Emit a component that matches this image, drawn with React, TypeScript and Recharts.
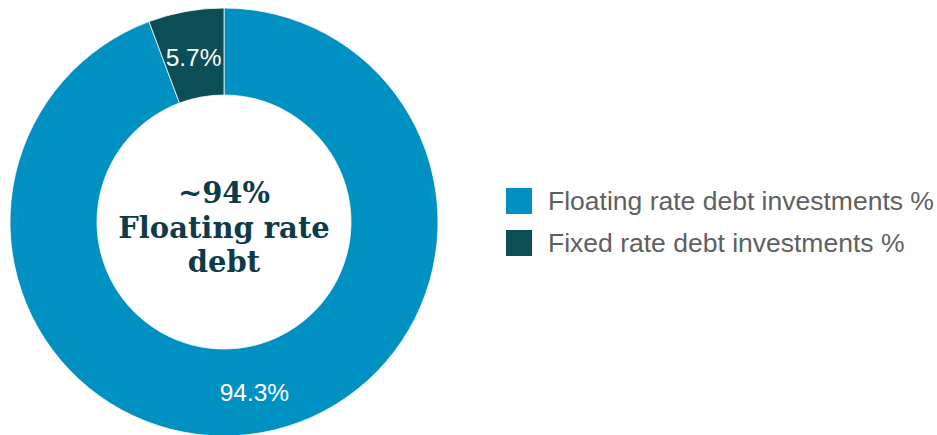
import { PieChart, Pie, Cell, Legend } from 'recharts';

const categories = ['Floating rate debt investments %', 'Fixed rate debt investments %'];
const shares = [94.3, 5.7];
const colors = ['#0091C2', '#0B4E56'];
const centerLines = ['~94%', 'Floating rate', 'debt'];

const data = categories.map((name, i) => ({ name, value: shares[i] }));

const RAD = Math.PI / 180;

// slice value labels; the first slice also draws the centre caption
const renderSliceLabel = (props: any) => {
  const { cx, cy, midAngle, innerRadius, outerRadius, value, index } = props;
  const r = (innerRadius + outerRadius) / 2;
  const x = cx + r * Math.cos(-midAngle * RAD);
  const y = cy + r * Math.sin(-midAngle * RAD);
  return (
    <g>
      <text
        x={x}
        y={y + 3}
        fill="#ffffff"
        textAnchor="middle"
        dominantBaseline="central"
        fontFamily="'Liberation Sans', Arial, sans-serif"
        fontSize={24.5}
      >
        {value.toFixed(1)}%
      </text>
      {index === 0 && (
        <text
          x={cx}
          textAnchor="middle"
          fill="#0E3B4A"
          fontFamily="'DejaVu Serif', Georgia, serif"
          fontWeight="bold"
          fontSize={29}
        >
          {centerLines.map((line, i) => (
            <tspan key={line} x={cx} y={cy - 19 + i * 34.5}>
              {line}
            </tspan>
          ))}
        </text>
      )}
    </g>
  );
};

const renderLegend = () => (
  <div style={{ fontFamily: "'Liberation Sans', Arial, sans-serif", fontSize: 26.5, color: '#5f5f5f' }}>
    {categories.map((name, i) => (
      <div key={name} style={{ display: 'flex', alignItems: 'center', height: 42, whiteSpace: 'nowrap' }}>
        <span style={{ display: 'inline-block', width: 26, height: 26, background: colors[i], marginRight: 16, flexShrink: 0 }} />
        <span>{name}</span>
      </div>
    ))}
  </div>
);

export default function App() {
  return (
    <div style={{ position: 'absolute', left: 0, top: 0, background: '#fff' }}>
      <PieChart width={937} height={435} margin={{ top: 0, right: 0, bottom: 0, left: 0 }}>
        <Pie
          data={data}
          dataKey="value"
          nameKey="name"
          cx={224}
          cy={222}
          innerRadius={127}
          outerRadius={214}
          startAngle={90}
          endAngle={-270}
          stroke="#ffffff"
          strokeWidth={0.75}
          label={renderSliceLabel}
          labelLine={false}
          isAnimationActive={false}
        >
          {data.map((d, i) => (
            <Cell key={d.name} fill={colors[i]} />
          ))}
        </Pie>
        <Legend
          layout="vertical"
          content={renderLegend}
          wrapperStyle={{ position: 'absolute', left: 506, top: 180, width: 431 }}
        />
      </PieChart>
    </div>
  );
}
